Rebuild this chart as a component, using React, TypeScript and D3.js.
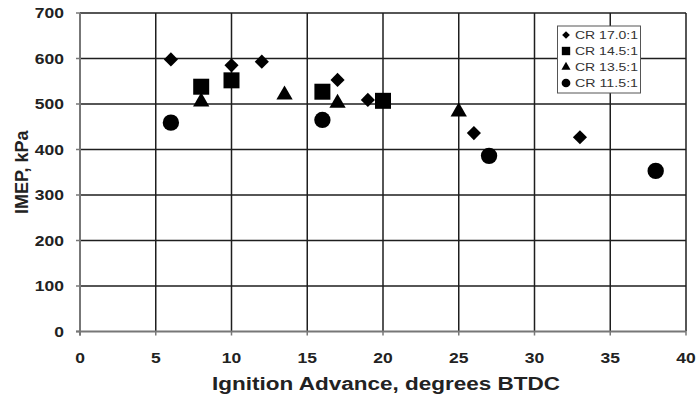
import React, { useEffect, useRef } from "react";
import * as d3 from "d3";

const xTicks = [0, 5, 10, 15, 20, 25, 30, 35, 40];
const yTicks = [0, 100, 200, 300, 400, 500, 600, 700];

const seriesNames = ["CR 17.0:1", "CR 14.5:1", "CR 13.5:1", "CR 11.5:1"];
const cr170X = [6, 10, 12, 17, 19, 26, 33];
const cr170Y = [598, 585, 593, 553, 509, 436, 427];
const cr145X = [8, 10, 16, 20];
const cr145Y = [538, 552, 527, 507];
const cr135X = [8, 13.5, 17, 25];
const cr135Y = [505, 520, 502, 483];
const cr115X = [6, 16, 27, 38];
const cr115Y = [459, 465, 386, 353];

const FONT = "'Liberation Sans', Arial, sans-serif";
const STRETCH = 1.25; // the source text is drawn a bit wide

export default function App() {
    const svgRef = useRef<SVGSVGElement>(null);

    useEffect(() => {
        const width = 696, height = 398;
        const left = 80, right = 686, top = 13, bottom = 331.5;
        const svg = d3.select(svgRef.current);
        svg.selectAll("*").remove();
        svg.attr("width", width).attr("height", height);

        const x = d3.scaleLinear().domain([0, 40]).range([left, right]);
        const y = d3.scaleLinear().domain([0, 700]).range([bottom, top]);

        // grid
        svg.append("g")
            .selectAll("line")
            .data(xTicks.slice(1))
            .join("line")
            .attr("x1", d => x(d)).attr("x2", d => x(d))
            .attr("y1", top).attr("y2", bottom)
            .attr("stroke", "#1e1e1e")
            .attr("stroke-width", 1.5);

        svg.append("g")
            .selectAll("line")
            .data(yTicks.slice(1))
            .join("line")
            .attr("x1", left).attr("x2", right)
            .attr("y1", d => y(d)).attr("y2", d => y(d))
            .attr("stroke", "#1e1e1e")
            .attr("stroke-width", 1.5);

        // axes
        svg.append("line")
            .attr("x1", left).attr("x2", left).attr("y1", top).attr("y2", bottom + 4)
            .attr("stroke", "#777").attr("stroke-width", 2);
        svg.append("line")
            .attr("x1", left - 4).attr("x2", right).attr("y1", bottom).attr("y2", bottom)
            .attr("stroke", "#777").attr("stroke-width", 2);

        // tick marks
        svg.append("g").selectAll("line")
            .data(yTicks)
            .join("line")
            .attr("x1", left - 4).attr("x2", left)
            .attr("y1", d => y(d)).attr("y2", d => y(d))
            .attr("stroke", "#777").attr("stroke-width", 1.5);
        svg.append("g").selectAll("line")
            .data(xTicks)
            .join("line")
            .attr("x1", d => x(d)).attr("x2", d => x(d))
            .attr("y1", bottom).attr("y2", bottom + 4)
            .attr("stroke", "#777").attr("stroke-width", 1.5);

        // tick labels
        svg.append("g").selectAll("text")
            .data(yTicks)
            .join("text")
            .attr("transform", d => `translate(64,${y(d) + 5}) scale(${STRETCH},1)`)
            .attr("text-anchor", "end")
            .attr("font-family", FONT)
            .attr("font-weight", "bold")
            .attr("font-size", "14px")
            .attr("fill", "#222")
            .text(d => d);

        svg.append("g").selectAll("text")
            .data(xTicks)
            .join("text")
            .attr("transform", d => `translate(${x(d)},363) scale(${STRETCH},1)`)
            .attr("text-anchor", "middle")
            .attr("font-family", FONT)
            .attr("font-weight", "bold")
            .attr("font-size", "14px")
            .attr("fill", "#222")
            .text(d => d);

        // axis titles
        svg.append("text")
            .attr("x", 212)
            .attr("y", 390)
            .attr("textLength", 348)
            .attr("lengthAdjust", "spacingAndGlyphs")
            .attr("font-family", FONT)
            .attr("font-weight", "bold")
            .attr("font-size", "18px")
            .attr("fill", "#222")
            .text("Ignition Advance, degrees BTDC");

        svg.append("text")
            .attr("transform", `translate(28,${(top + bottom) / 2}) rotate(-90)`)
            .attr("text-anchor", "middle")
            .attr("font-family", FONT)
            .attr("font-weight", "bold")
            .attr("font-size", "18px")
            .attr("fill", "#222")
            .text("IMEP, kPa");

        // markers
        const shapes = [
            { type: d3.symbolSquare, size: 100, rot: 45, legendSize: 30 },
            { type: d3.symbolSquare, size: 256, rot: 0, legendSize: 70 },
            { type: d3.symbolTriangle, size: 115, rot: 0, legendSize: 36 },
            { type: d3.symbolCircle, size: 210, rot: 0, legendSize: 60 },
        ];
        const series = [
            { xs: cr170X, ys: cr170Y },
            { xs: cr145X, ys: cr145Y },
            { xs: cr135X, ys: cr135Y },
            { xs: cr115X, ys: cr115Y },
        ];

        series.forEach((s, i) => {
            const sh = shapes[i];
            const path = d3.symbol().type(sh.type).size(sh.size)();
            svg.append("g").selectAll("path")
                .data(s.xs.map((v, j) => [v, s.ys[j]]))
                .join("path")
                .attr("d", path)
                .attr("transform", d => `translate(${x(d[0])},${y(d[1])}) rotate(${sh.rot})`)
                .attr("fill", "#000");
        });

        // legend
        const lg = svg.append("g");
        lg.append("rect")
            .attr("x", 557.5).attr("y", 26)
            .attr("width", 83).attr("height", 67)
            .attr("fill", "#fff")
            .attr("stroke", "#555")
            .attr("stroke-width", 1);

        seriesNames.forEach((name, i) => {
            const sh = shapes[i];
            const cy = 35 + i * 16;
            lg.append("path")
                .attr("d", d3.symbol().type(sh.type).size(sh.legendSize)())
                .attr("transform", `translate(566,${cy}) rotate(${sh.rot})`)
                .attr("fill", "#000");
            lg.append("text")
                .attr("x", 575)
                .attr("y", cy + 4)
                .attr("textLength", 63)
                .attr("lengthAdjust", "spacingAndGlyphs")
                .attr("font-family", FONT)
                .attr("font-size", "11px")
                .attr("fill", "#333")
                .text(name);
        });
    }, []);

    return (
        <svg ref={svgRef} style={{ position: "absolute", left: 0, top: 0, display: "block" }} />
    );
}
